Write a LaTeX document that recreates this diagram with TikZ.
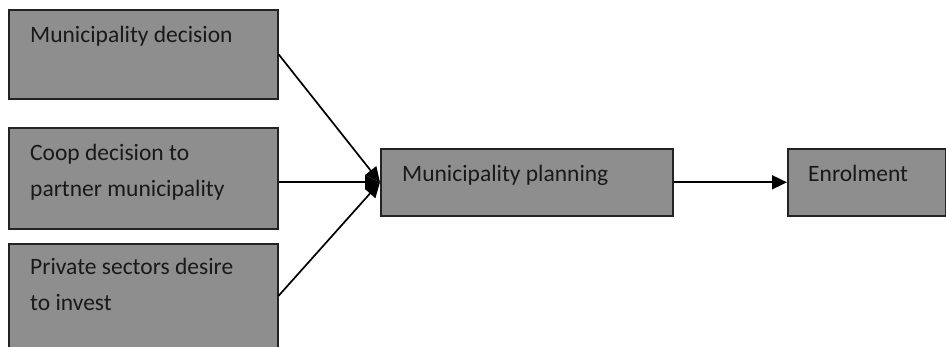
\documentclass[tikz,border=0pt]{standalone}
\usepackage{fontspec}
\setmainfont{Carlito}
\usetikzlibrary{arrows.meta,positioning}
\definecolor{boxfill}{RGB}{142,142,142}
\definecolor{boxline}{RGB}{35,35,35}

\begin{document}
\begin{tikzpicture}[
    x=1pt, y=-1pt,
    block/.style={draw=boxline, fill=boxfill, line width=1.6pt,
      anchor=north west, inner sep=0pt},
    label/.style={anchor=base west, align=left, inner sep=0pt,
      text=black!90, font=\fontsize{23.5}{36}\selectfont},
    arrow/.style={-{Triangle[length=15pt,width=14pt]}, line width=1.7pt}
  ]
    \useasboundingbox (0,0) rectangle (946,346);
    \node[block, minimum width=269pt, minimum height=89pt] (decision) at (8,9) {};
    \node[block, minimum width=269pt, minimum height=101pt] (coop) at (8,127) {};
    \node[block, minimum width=269pt, minimum height=104pt] (private) at (8,243) {};
    \node[block, minimum width=292pt, minimum height=67pt] (planning) at (380,148) {};
    \node[block, minimum width=158pt, minimum height=67pt] (enrol) at (787,148) {};
    % two-line labels sit on the baseline of their last line
    \node[label] (decision-t) at ([shift={(22,33)}]decision.north west) {Municipality decision};
    \node[label] (coop-t) at ([shift={(22,69)}]coop.north west) {Coop decision to\\partner municipality};
    \node[label] (private-t) at ([shift={(22,67)}]private.north west) {Private sectors desire\\to invest};
    \node[label] (planning-t) at ([shift={(22,33)}]planning.north west) {Municipality planning};
    \node[label] (enrol-t) at ([shift={(21,33)}]enrol.north west) {Enrolment};
    \draw[arrow] (decision.east) -- (planning.west);
    \draw[arrow] (coop.east |- planning.west) -- (planning.west);
    \draw[arrow] (private.east) -- (planning.west);
    \draw[arrow] (planning.east) -- (enrol.west);
\end{tikzpicture}
\end{document}
